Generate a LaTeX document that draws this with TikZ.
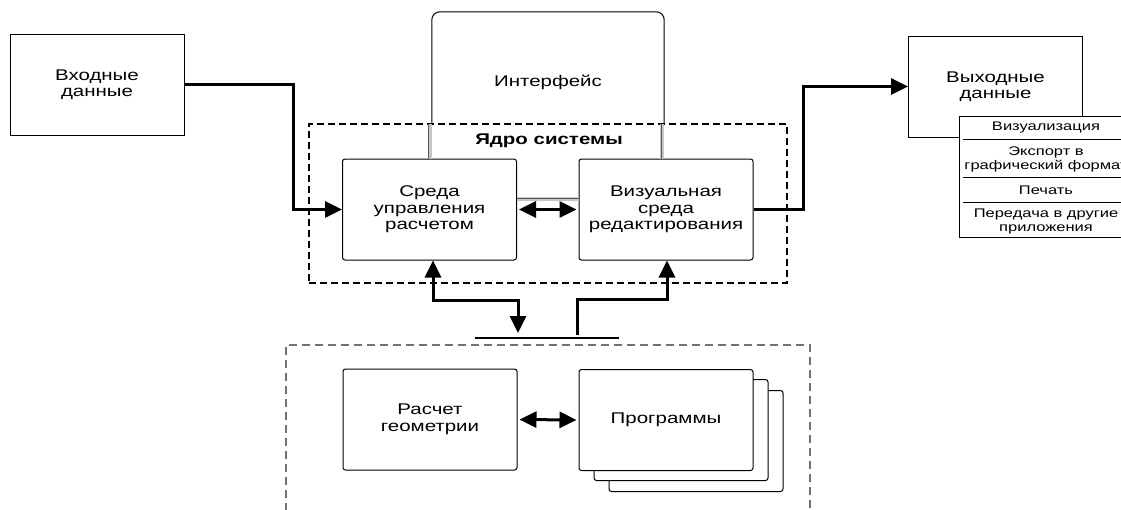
\documentclass[tikz,border=0pt]{standalone}
\usepackage{fontspec}
\setmainfont{Liberation Sans}[FakeStretch=1.32]
\usetikzlibrary{arrows.meta,calc}
\definecolor{dashpurple}{RGB}{125,105,128}
\newcommand{\mainsz}{\fontsize{15.5}{16.5}\selectfont}
\newcommand{\listsz}{\fontsize{12.5}{14}\selectfont}
\begin{document}
\begin{tikzpicture}[x=1pt,y=-1pt,
  box/.style={draw, line width=1pt, fill=white, minimum width=174pt, minimum height=101pt, align=center, inner sep=2pt, font=\mainsz},
  rbox/.style={box, rounded corners=2.5pt},
  tip/.tip={Triangle[length=17pt,width=16pt]},
  arr/.style={line width=3pt, -tip},
  darr/.style={line width=3pt, tip-tip},
  grayline/.style={line width=4pt, gray!45},
  grayedge/.style={line width=1pt, black!65},
  coredash/.style={draw, line width=1.5pt, dash pattern=on 7pt off 4pt},
  lowdash/.style={draw=dashpurple, line width=1.5pt, dash pattern=on 8pt off 5pt},
  txt/.style={font=\mainsz, align=center, inner sep=0pt},
  ltxt/.style={font=\listsz, align=center, inner sep=0pt},
]
\useasboundingbox (0,0) rectangle (1121,509);
\clip (0,0) rectangle (1121,509);

% containers
\node[coredash, minimum width=478pt, minimum height=159pt] (core) at (548,203.5) {};
\node[txt, font=\fontsize{15.5}{18}\selectfont\bfseries] (coretitle) at (549,141) {Ядро системы};
\node[lowdash, minimum width=524pt, minimum height=185pt] (lower) at (548,437.5) {};

% interface
\node[minimum width=232pt, minimum height=112pt, inner sep=0pt] (iface) at (548,68) {};
\draw[line width=1pt, rounded corners=8pt] (iface.south west) -- (iface.north west) -- (iface.north east) -- (iface.south east);
\node[txt] (ifacetxt) at (548,82) {Интерфейс};

% boxes
\node[box] (in) at (97,84.5) {Входные\\данные};
\node[rbox] (sreda) at (429.5,209.5) {Среда\\управления\\расчетом};
\node[rbox] (vis) at (666,209.5) {Визуальная\\среда\\редактирования};
\node[box] (out) at (995.5,86.5) {Выходные\\данные};

% gray links
\draw[grayline] ([xshift=-2pt]iface.south west) -- ([xshift=-2pt]iface.south west |- sreda.north);
\draw[grayedge] ([xshift=-3pt]iface.south west) -- ([xshift=-3pt]iface.south west |- sreda.north);
\draw[grayline] ([xshift=-2pt]iface.south east) -- ([xshift=-2pt]iface.south east |- vis.north);
\draw[grayedge] ([xshift=-3pt]iface.south east) -- ([xshift=-3pt]iface.south east |- vis.north);
\draw[grayline] ([yshift=10.5pt]sreda.east) -- ([yshift=10.5pt]vis.west);
\draw[grayedge] ([yshift=11.5pt]sreda.east) -- ([yshift=11.5pt]vis.west);

% list
\node[draw, line width=1pt, fill=white, minimum width=174pt, minimum height=121pt] (list) at (1046,176.5) {};
\draw[line width=1pt] (963,139) -- (1133,139);
\draw[line width=1pt] (963,177) -- (1133,177);
\draw[line width=1pt] (963,202) -- (1133,202);
\node[ltxt] (l1) at (1046,127) {Визуализация};
\node[ltxt] (l2) at (1046,159) {Экспорт в\\графический формат};
\node[ltxt] (l3) at (1046,190) {Печать};
\node[ltxt] (l4) at (1046,221) {Передача в другие\\приложения};

% lower boxes
\node[rbox] (prog3) at (696,441) {};
\node[rbox] (prog2) at (681,430) {};
\node[rbox] (prog) at (666,420) {Программы};
\node[rbox] (geom) at (430,419.5) {Расчет\\геометрии};

% bus
\coordinate (busL) at (475,338);
\coordinate (busR) at (619,338);
\draw[line width=1.5pt] (busL) -- (busR);

% connectors
\draw[arr] (in.east) -- ++(109,0) |- (sreda.west);
\draw[arr] (vis.east) -- ++(50,0) |- (out.west);
\draw[darr, shorten <=2pt, shorten >=2pt] (sreda.east) -- (vis.west);
\draw[darr, shorten <=2pt, shorten >=2pt] (geom.east) -- (prog.west);
\draw[darr] ([xshift=3.5pt]sreda.south) |- ($(busL)+(43,-38)$) -- ($(busL)+(43,-5)$);
\draw[arr] ($(busL)+(102,-3)$) |- ($(vis.south)+(1,39)$) -- ([xshift=1pt]vis.south);
\end{tikzpicture}
\end{document}
